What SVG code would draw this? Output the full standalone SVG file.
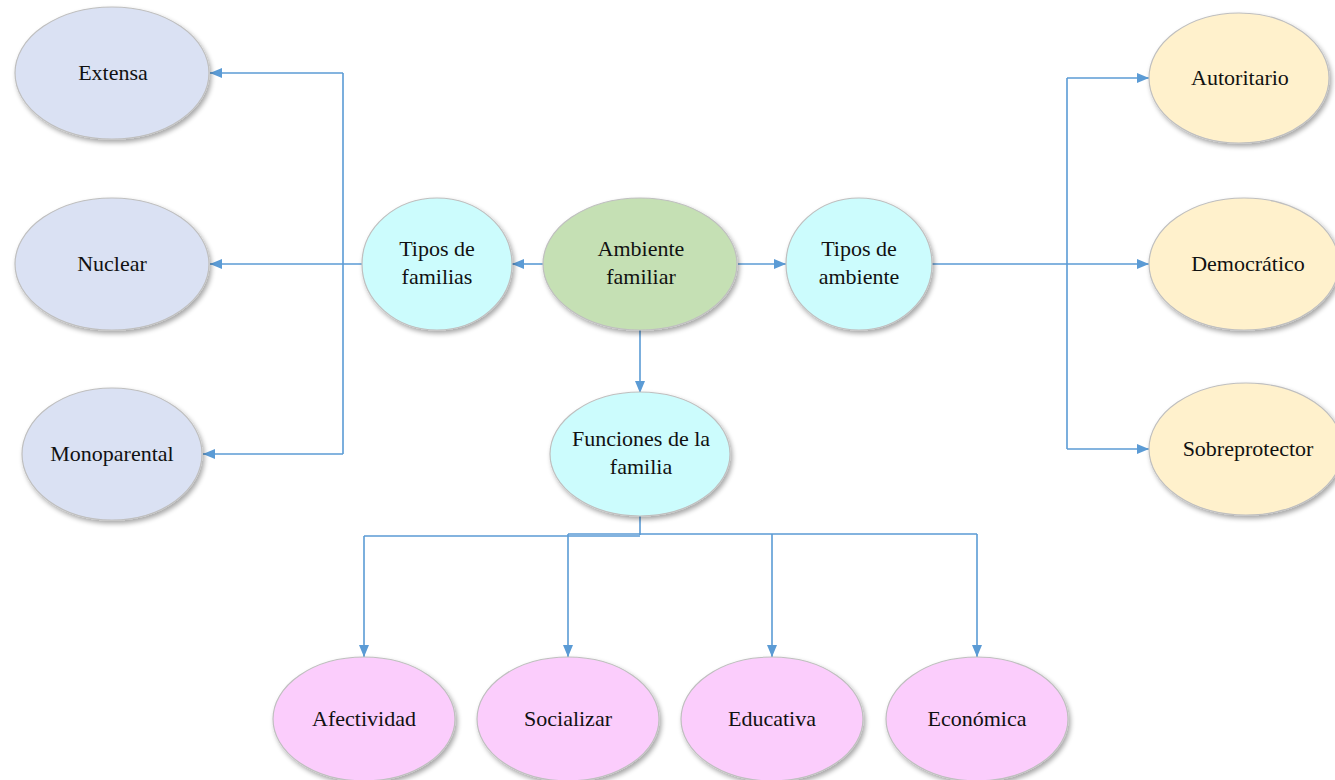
<svg xmlns="http://www.w3.org/2000/svg" width="1335" height="780" viewBox="0 0 1335 780">
<style>
.n ellipse{stroke:#bfbfbf;stroke-width:1.2;filter:url(#sh)}
.n text{font-family:"Liberation Serif","Times New Roman",serif;font-size:22px;fill:#111;text-anchor:middle}
.c{fill:none;stroke:#5b9bd5;stroke-width:1.6}
.a{marker-end:url(#ar)}
.lav{fill:#dae1f3}.cy{fill:#ccfcfd}.gr{fill:#c5e0b4}.ye{fill:#fff1cc}.pk{fill:#fbcdfc}
</style>
<defs>
<filter id="sh" x="-20%" y="-20%" width="150%" height="150%">
<feGaussianBlur in="SourceAlpha" stdDeviation="2.5"/>
<feOffset dx="2" dy="3" result="b"/>
<feComponentTransfer><feFuncA type="linear" slope="0.35"/></feComponentTransfer>
<feMerge><feMergeNode/><feMergeNode in="SourceGraphic"/></feMerge>
</filter>
<marker id="ar" viewBox="0 0 12 10" refX="12" refY="5" markerWidth="12" markerHeight="10" markerUnits="userSpaceOnUse" orient="auto">
<path d="M0,0 L12,5 L0,10 z" fill="#5b9bd5"/>
</marker>
</defs>
<g id="connectors">
<path class="c a" d="M543,264 H512"/>
<path class="c a" d="M738,264 H786"/>
<path class="c a" d="M640,330 V393"/>
<path class="c" d="M362,264 H343 M343,73 V454"/>
<path class="c a" d="M343,73 H210"/>
<path class="c a" d="M343,264 H210"/>
<path class="c a" d="M343,454 H203"/>
<path class="c" d="M932,264 H1067 M1067,78 V449"/>
<path class="c a" d="M1067,78 H1149"/>
<path class="c a" d="M1067,264 H1149"/>
<path class="c a" d="M1067,449 H1149"/>
<path class="c" d="M640,515 V535 M364,536 H640 M568,534 H977"/>
<path class="c a" d="M364,536 V657"/>
<path class="c a" d="M568,534 V657"/>
<path class="c a" d="M772,534 V657"/>
<path class="c a" d="M977,534 V657"/>
</g>
<g id="extensa" class="n"><ellipse class="lav" cx="112" cy="73" rx="97" ry="66"/><text x="113" y="80">Extensa</text></g>
<g id="nuclear" class="n"><ellipse class="lav" cx="112" cy="264" rx="97" ry="66"/><text x="112" y="271">Nuclear</text></g>
<g id="monoparental" class="n"><ellipse class="lav" cx="112" cy="454" rx="90" ry="66"/><text x="112" y="461">Monoparental</text></g>
<g id="tipos-familias" class="n"><ellipse class="cy" cx="437" cy="264" rx="75" ry="66"/><text x="437" y="256">Tipos de</text><text x="437" y="284">familias</text></g>
<g id="ambiente-familiar" class="n"><ellipse class="gr" cx="640" cy="264" rx="97" ry="66"/><text x="641" y="256">Ambiente</text><text x="641" y="284">familiar</text></g>
<g id="tipos-ambiente" class="n"><ellipse class="cy" cx="859" cy="264" rx="73" ry="66"/><text x="859" y="256">Tipos de</text><text x="859" y="284">ambiente</text></g>
<g id="funciones" class="n"><ellipse class="cy" cx="640" cy="454" rx="90" ry="62"/><text x="641" y="446">Funciones de la</text><text x="641" y="474">familia</text></g>
<g id="autoritario" class="n"><ellipse class="ye" cx="1239" cy="78" rx="90" ry="65"/><text x="1240" y="85">Autoritario</text></g>
<g id="democratico" class="n"><ellipse class="ye" cx="1244" cy="264" rx="95" ry="66"/><text x="1248" y="271">Democrático</text></g>
<g id="sobreprotector" class="n"><ellipse class="ye" cx="1246" cy="449" rx="97" ry="66"/><text x="1248" y="456">Sobreprotector</text></g>
<g id="afectividad" class="n"><ellipse class="pk" cx="364" cy="719" rx="91" ry="62"/><text x="364" y="726">Afectividad</text></g>
<g id="socializar" class="n"><ellipse class="pk" cx="568" cy="719" rx="91" ry="62"/><text x="568" y="726">Socializar</text></g>
<g id="educativa" class="n"><ellipse class="pk" cx="772" cy="719" rx="91" ry="62"/><text x="772" y="726">Educativa</text></g>
<g id="economica" class="n"><ellipse class="pk" cx="977" cy="719" rx="91" ry="62"/><text x="977" y="726">Económica</text></g>
</svg>
